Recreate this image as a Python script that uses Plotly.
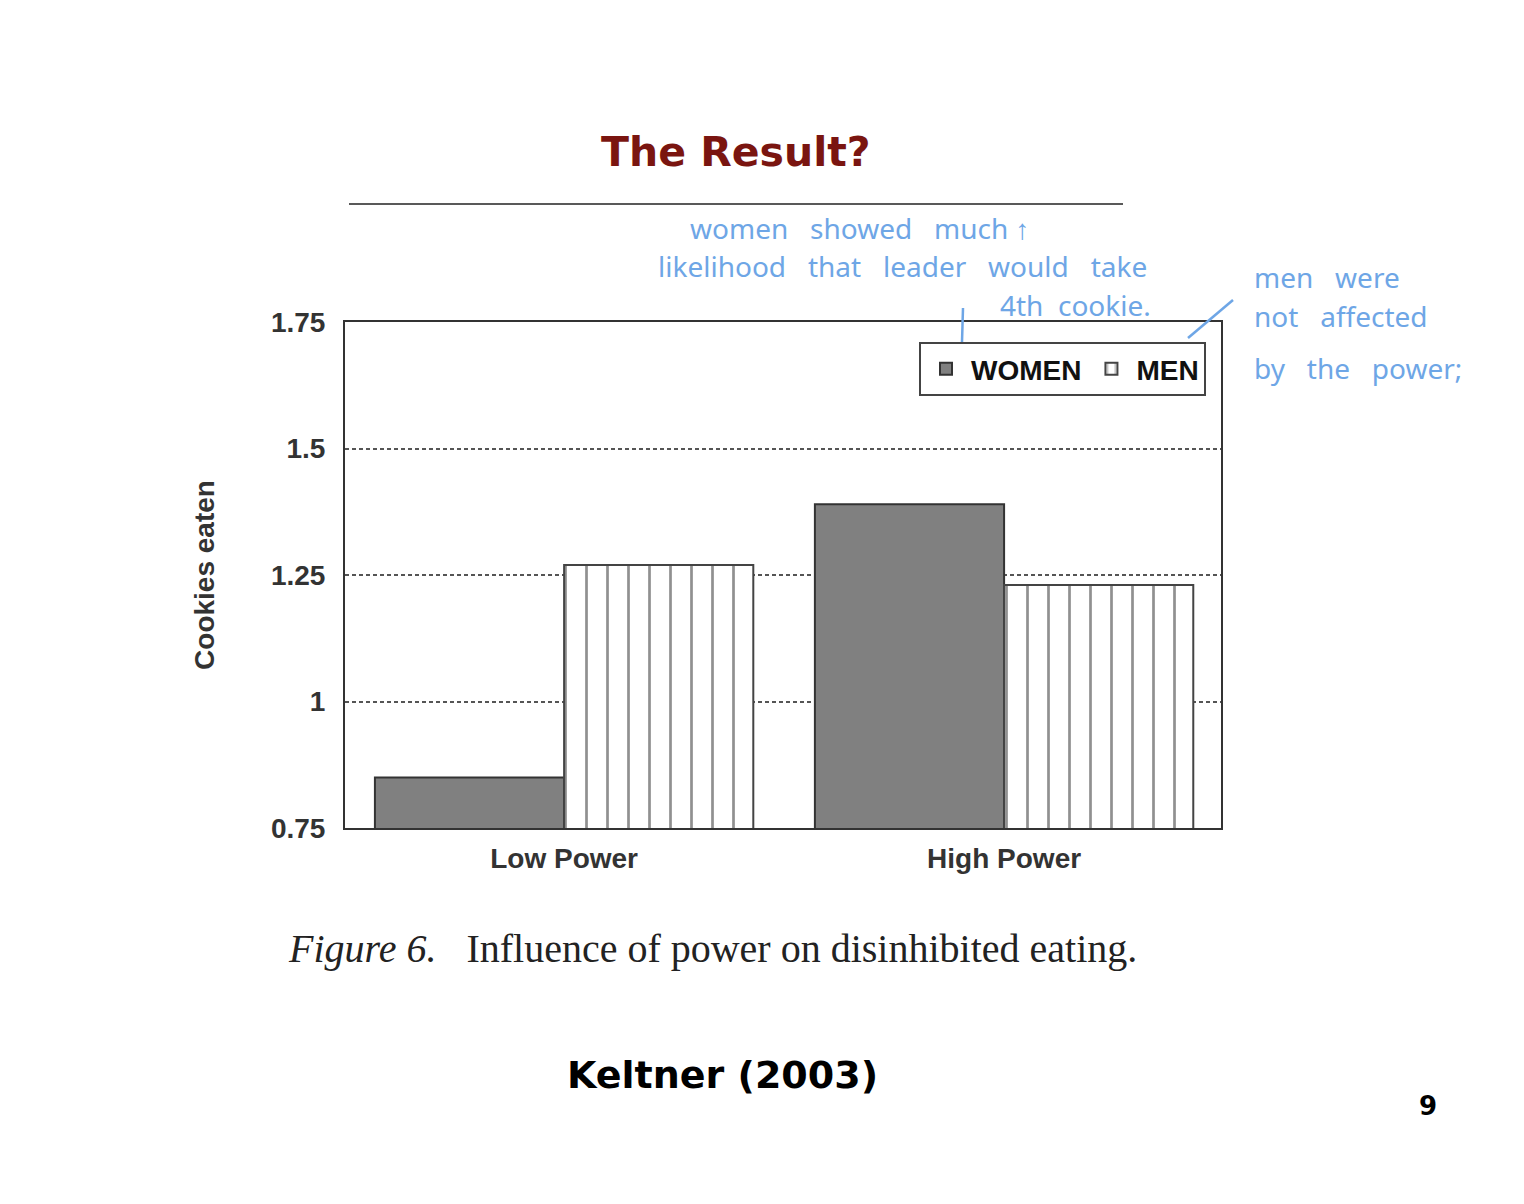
import plotly.graph_objects as go

categories = ["Low Power", "High Power"]
women = [0.85, 1.39]
men = [1.27, 1.23]
tick_vals = [0.75, 1.0, 1.25, 1.5, 1.75]
tick_text = ["0.75", "1", "1.25", "1.5", "1.75"]

W, H = 1524, 1204
OFF = 8  # page body offset
L, R, T, B = 345, 1221, 322, 828


def px(x):
    return (x - L) / (R - L)


def py(y):
    return (B - y) / (B - T)


fig = go.Figure()
fig.add_trace(go.Bar(
    name="WOMEN", x=categories, y=women,
    marker=dict(color="#808080", line=dict(color="#333333", width=2)),
))
fig.add_trace(go.Bar(
    name="MEN", x=categories, y=men,
    marker=dict(color="white", line=dict(color="#444444", width=2),
                pattern=dict(shape="|", size=21, solidity=0.13,
                             fgcolor="#222222", bgcolor="white")),
))

sans = "Liberation Sans, Arial, sans-serif"
fig.update_layout(
    width=W, height=H,
    margin=dict(l=L - OFF, r=W - (R - OFF), t=T - OFF, b=H - (B - OFF), pad=0),
    paper_bgcolor="white", plot_bgcolor="white",
    barmode="group", bargap=0.14, bargroupgap=0,
    showlegend=True,
    legend=dict(orientation="h", x=px(919), y=py(342), xanchor="left", yanchor="top",
                bgcolor="white", bordercolor="#444444", borderwidth=2,
                font=dict(family=sans, size=28, color="#111111", weight="bold"),
                itemwidth=40, tracegroupgap=0),
    font=dict(family=sans),
)
fig.update_xaxes(
    range=[-0.498, 1.493], showline=True, linecolor="#333333", linewidth=2, mirror=True,
    ticks="", showgrid=False, ticklabelstandoff=4,
    tickfont=dict(family=sans, size=28, color="#333333", weight="bold"),
)
fig.update_yaxes(
    range=[0.75, 1.75], showline=True, linecolor="#333333", linewidth=2, mirror=True,
    tickvals=tick_vals, ticktext=tick_text, ticks="", ticklabelstandoff=12,
    showgrid=True, gridcolor="#555555", gridwidth=2, griddash="4px,3px",
    tickfont=dict(family=sans, size=28, color="#333333", weight="bold"),
    title=dict(text="Cookies eaten", font=dict(family=sans, size=28, color="#333333", weight="bold"), standoff=48),
    zeroline=False,
)


def note(text, x, y, font, xanchor="center"):
    return dict(text=text, x=px(x), y=py(y), xref="paper", yref="paper", xanchor=xanchor,
                yanchor="middle", showarrow=False, font=font)


ann = [
    note("<b>The Result?</b>", 736, 152, dict(family="DejaVu Sans", size=41, color="#7a1510")),
    note("<i>Figure 6.</i>   Influence of power on disinhibited eating.", 712, 948,
         dict(family="Liberation Serif, Times New Roman", size=40, color="#222222")),
    note("<b>Keltner (2003)</b>", 722, 1075, dict(family="DejaVu Sans", size=38, color="black")),
    note("<b>9</b>", 1428, 1106, dict(family="DejaVu Sans", size=26, color="black")),
]
hand = dict(family="Noto Sans", size=28, color="#6ea6e6")
notes = [
    ("women   showed   much ↑", 860, 228, "center"),
    ("likelihood   that   leader   would   take", 902, 266, "center"),
    ("4th  cookie.", 1075, 305, "center"),
    ("men   were", 1252, 277, "left"),
    ("not   affected", 1252, 316, "left"),
    ("by   the   power;", 1252, 368, "left"),
]
for t, x, y, anc in notes:
    ann.append(note(t, x, y, hand, anc))
fig.update_layout(annotations=ann)

shapes = [
    dict(type="line", xref="paper", yref="paper", x0=px(349), x1=px(1123), y0=py(204), y1=py(204),
         line=dict(color="#222222", width=1.5)),
    dict(type="line", xref="paper", yref="paper", x0=px(963), x1=px(962), y0=py(308), y1=py(342),
         line=dict(color="#6ea6e6", width=2.5)),
    dict(type="line", xref="paper", yref="paper", x0=px(1233), x1=px(1188), y0=py(300), y1=py(338),
         line=dict(color="#6ea6e6", width=2.5)),
    dict(type="line", xref="paper", yref="paper", x0=px(1519), x1=px(1519), y0=py(0), y1=py(1204),
         line=dict(color="#333333", width=4)),
]
fig.update_layout(shapes=shapes)

fig.write_html("out.html")
